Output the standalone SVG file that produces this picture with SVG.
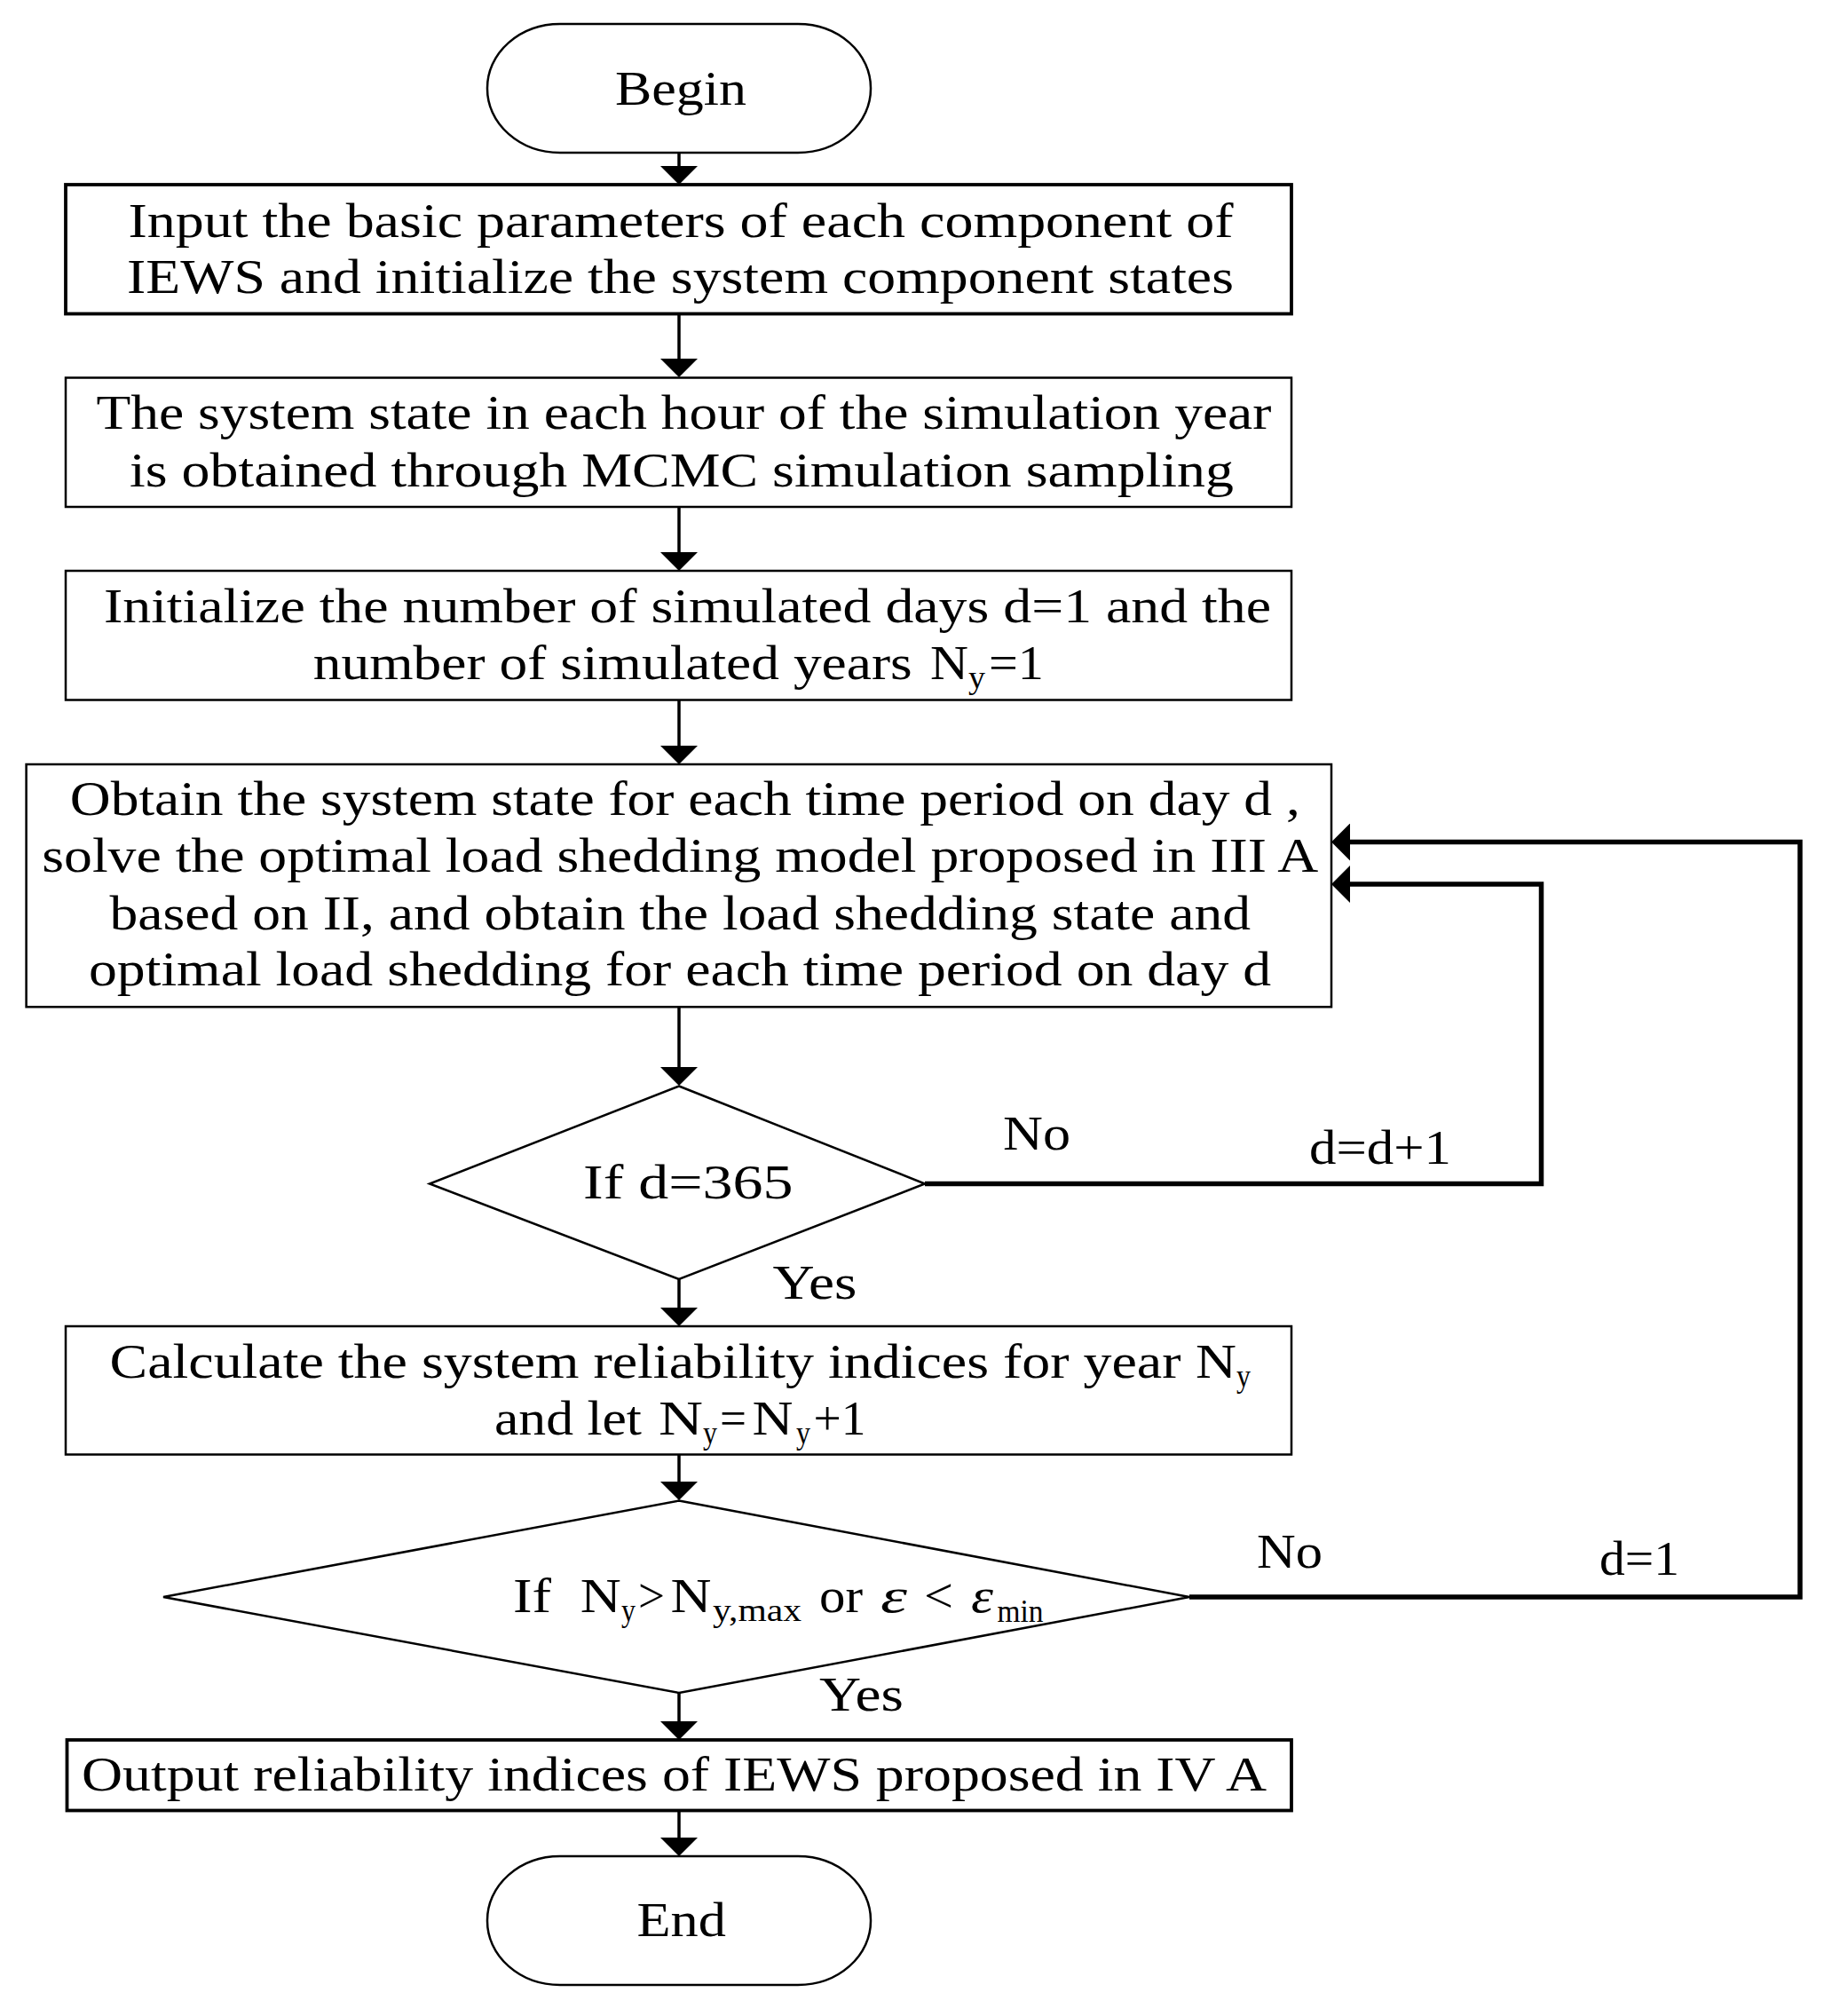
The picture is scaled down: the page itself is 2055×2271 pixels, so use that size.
<svg xmlns="http://www.w3.org/2000/svg" width="2055" height="2271" viewBox="0 0 2055 2271">
<style>
  .bg{fill:#ffffff}
  .box{fill:#ffffff;stroke:#000;stroke-width:2.5}
  .boxb{fill:#ffffff;stroke:#000;stroke-width:3.8}
  .shape{fill:#ffffff;stroke:#000;stroke-width:2.5}
  .arrow{fill:none;stroke:#000;stroke-width:3.5}
  .loop{fill:none;stroke:#000;stroke-width:5.5;stroke-linejoin:miter}
  text{font-family:"Liberation Serif","Times New Roman",serif;font-size:54px;fill:#000}
  .sub{font-size:36px}
  .it{font-style:italic}
</style>
<defs>
  <marker id="ah" viewBox="0 0 21 42" markerUnits="userSpaceOnUse" markerWidth="21" markerHeight="42" refX="9" refY="21" orient="auto">
    <path d="M0,0 L21,21 L0,42 z" fill="#000"/>
  </marker>
</defs>
<rect class="bg" x="0" y="0" width="2055" height="2271"/>

<g id="connectors">
  <path class="arrow" d="M765,172 V196" marker-end="url(#ah)"/>
  <path class="arrow" d="M765,354 V413" marker-end="url(#ah)"/>
  <path class="arrow" d="M765,571 V631" marker-end="url(#ah)"/>
  <path class="arrow" d="M765,789 V849" marker-end="url(#ah)"/>
  <path class="arrow" d="M765,1135 V1211" marker-end="url(#ah)"/>
  <path class="arrow" d="M765,1441 V1482" marker-end="url(#ah)"/>
  <path class="arrow" d="M765,1639 V1678" marker-end="url(#ah)"/>
  <path class="arrow" d="M765,1907 V1948" marker-end="url(#ah)"/>
  <path class="arrow" d="M765,2040 V2079" marker-end="url(#ah)"/>
  <path class="loop" d="M1042,1333.5 H1736.5 V996 H1512" marker-end="url(#ah)"/>
  <path class="loop" d="M1340,1799 H2028 V948.5 H1512" marker-end="url(#ah)"/>
  <text x="1130" y="1295" textLength="76" lengthAdjust="spacingAndGlyphs">No</text>
  <text x="1475" y="1311" textLength="160" lengthAdjust="spacingAndGlyphs">d=d+1</text>
  <text x="870.5" y="1463" textLength="95" lengthAdjust="spacingAndGlyphs">Yes</text>
  <text x="1416" y="1766" textLength="74" lengthAdjust="spacingAndGlyphs">No</text>
  <text x="1802" y="1774" textLength="90" lengthAdjust="spacingAndGlyphs">d=1</text>
  <text x="923" y="1927" textLength="95" lengthAdjust="spacingAndGlyphs">Yes</text>
</g>

<g id="begin">
  <rect class="shape" x="549" y="27" width="432" height="145" rx="82" ry="72"/>
  <text x="693" y="118" textLength="148" lengthAdjust="spacingAndGlyphs">Begin</text>
</g>

<g id="input">
  <rect class="boxb" x="74" y="208" width="1381" height="145.5"/>
  <text x="144.5" y="267" textLength="1245" lengthAdjust="spacingAndGlyphs">Input the basic parameters of each component of</text>
  <text x="143" y="330" textLength="1247" lengthAdjust="spacingAndGlyphs">IEWS and initialize the system component states</text>
</g>

<g id="sample">
  <rect class="box" x="74" y="425.5" width="1381" height="145.5"/>
  <text x="108.4" y="483" textLength="1324" lengthAdjust="spacingAndGlyphs">The system state in each hour of the simulation year</text>
  <text x="146" y="548" textLength="1244" lengthAdjust="spacingAndGlyphs">is obtained through MCMC simulation sampling</text>
</g>

<g id="init">
  <rect class="box" x="74" y="643" width="1381" height="145.5"/>
  <text x="117" y="701" textLength="1315" lengthAdjust="spacingAndGlyphs">Initialize the number of simulated days d=1 and the</text>
  <text x="352.8" y="765" textLength="675" lengthAdjust="spacingAndGlyphs">number of simulated years</text>
  <text x="1048" y="765" textLength="43" lengthAdjust="spacingAndGlyphs">N</text>
  <text class="sub" x="1091" y="775" textLength="19" lengthAdjust="spacingAndGlyphs">y</text>
  <text x="1114" y="765" textLength="62" lengthAdjust="spacingAndGlyphs">=1</text>
</g>

<g id="obtain">
  <rect class="box" x="29.6" y="861" width="1470.4" height="273.3"/>
  <text x="78.8" y="918" textLength="1386" lengthAdjust="spacingAndGlyphs">Obtain the system state for each time period on day d ,</text>
  <text x="47.3" y="982" textLength="1438" lengthAdjust="spacingAndGlyphs">solve the optimal load shedding model proposed in III A</text>
  <text x="123.5" y="1047" textLength="1285.5" lengthAdjust="spacingAndGlyphs">based on II, and obtain the load shedding state and</text>
  <text x="100" y="1110" textLength="1332" lengthAdjust="spacingAndGlyphs">optimal load shedding for each time period on day d</text>
</g>

<g id="check-day">
  <polygon class="shape" points="765,1223.5 1042,1333.5 765,1441 484,1333.5"/>
  <text x="657" y="1350" textLength="236.5" lengthAdjust="spacingAndGlyphs">If  d=365</text>
</g>

<g id="calculate">
  <rect class="box" x="74" y="1494" width="1381" height="144.5"/>
  <text x="123.5" y="1552" textLength="1207" lengthAdjust="spacingAndGlyphs">Calculate the system reliability indices for year</text>
  <text x="1347" y="1552" textLength="46" lengthAdjust="spacingAndGlyphs">N</text>
  <text class="sub" x="1393" y="1562" textLength="16" lengthAdjust="spacingAndGlyphs">y</text>
  <text x="557" y="1616" textLength="166" lengthAdjust="spacingAndGlyphs">and let</text>
  <text x="742" y="1616" textLength="50" lengthAdjust="spacingAndGlyphs">N</text>
  <text class="sub" x="792" y="1626" textLength="16" lengthAdjust="spacingAndGlyphs">y</text>
  <text x="811" y="1616" textLength="30" lengthAdjust="spacingAndGlyphs">=</text>
  <text x="847.5" y="1616" textLength="46" lengthAdjust="spacingAndGlyphs">N</text>
  <text class="sub" x="897" y="1626" textLength="16" lengthAdjust="spacingAndGlyphs">y</text>
  <text x="916.5" y="1616" textLength="59" lengthAdjust="spacingAndGlyphs">+1</text>
</g>

<g id="check-year">
  <polygon class="shape" points="765,1690.5 1340,1799 765,1907 184,1799"/>
  <text x="578" y="1816" textLength="43" lengthAdjust="spacingAndGlyphs">If</text>
  <text x="653.7" y="1816" textLength="46" lengthAdjust="spacingAndGlyphs">N</text>
  <text class="sub" x="700" y="1826" textLength="16" lengthAdjust="spacingAndGlyphs">y</text>
  <text x="719" y="1816" textLength="30" lengthAdjust="spacingAndGlyphs">&gt;</text>
  <text x="755.5" y="1816" textLength="46" lengthAdjust="spacingAndGlyphs">N</text>
  <text class="sub" x="803" y="1826" textLength="100" lengthAdjust="spacingAndGlyphs">y,max</text>
  <text x="923" y="1816" textLength="49" lengthAdjust="spacingAndGlyphs">or</text>
  <text class="it" x="992" y="1816" textLength="30" lengthAdjust="spacingAndGlyphs">ε</text>
  <text x="1041" y="1816" textLength="33" lengthAdjust="spacingAndGlyphs">&lt;</text>
  <text class="it" x="1094" y="1816" textLength="25" lengthAdjust="spacingAndGlyphs">ε</text>
  <text class="sub" x="1123.6" y="1827" textLength="52" lengthAdjust="spacingAndGlyphs">min</text>
</g>

<g id="output">
  <rect class="boxb" x="75.5" y="1960" width="1379.5" height="79.5"/>
  <text x="92" y="2017" textLength="1335" lengthAdjust="spacingAndGlyphs">Output reliability indices of IEWS proposed in IV A</text>
</g>

<g id="end">
  <rect class="shape" x="549" y="2091" width="432" height="145" rx="82" ry="72"/>
  <text x="717.5" y="2181" textLength="100.5" lengthAdjust="spacingAndGlyphs">End</text>
</g>
</svg>
